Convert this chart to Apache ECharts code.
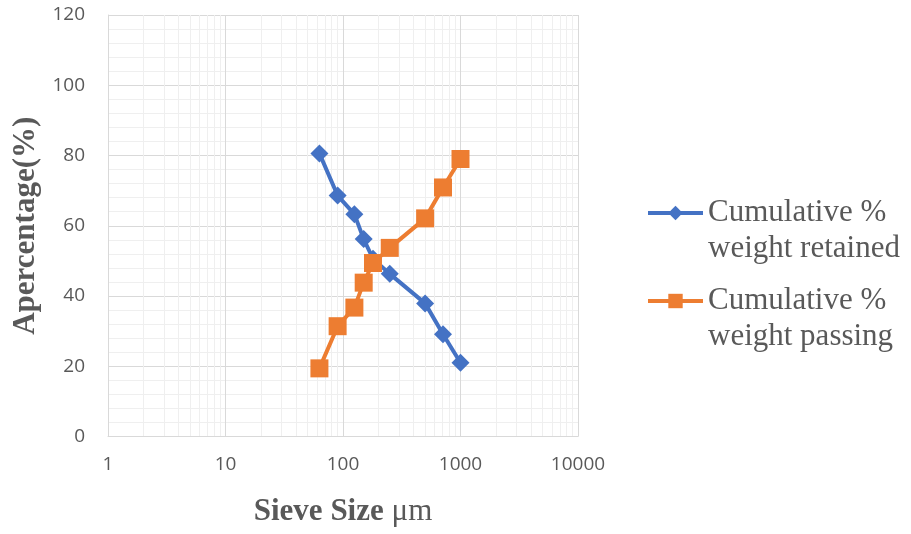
<!DOCTYPE html>
<html>
<head>
<meta charset="utf-8">
<script src="https://cdn.jsdelivr.net/npm/echarts@6/dist/echarts.min.js"></script>
<style>
html,body{margin:0;padding:0;background:#fff;}
#chart{width:911px;height:534px;}
</style>
</head>
<body>
<div id="chart"></div>
<script>
// Sieve sizes (µm)
var sieveSizes = [63, 90, 125, 150, 180, 250, 500, 710, 1000];
// Cumulative % weight retained
var retained = [80.6, 68.6, 63.3, 56.2, 50.6, 46.3, 37.9, 29.1, 21.0];
// Cumulative % weight passing
var passing = [19.4, 31.4, 36.7, 43.8, 49.4, 53.7, 62.1, 70.9, 79.0];
var seriesNames = ['Cumulative %\nweight retained', 'Cumulative %\nweight passing'];
// x minor gridline values
var xMinorTicks = [2,3,4,5,6,7,8,9,20,30,40,50,60,70,80,90,200,300,400,500,600,700,800,900,2000,3000,4000,5000,6000,7000,8000,9000];

function pairs(xs, ys){ return xs.map(function(x,i){ return [x, ys[i]]; }); }

var chart = echarts.init(document.getElementById('chart'), null, {renderer:'canvas'});
var tickFont = {fontFamily:'Open Sans', fontSize:19, color:'#595959'};
var lineH = 36;
chart.setOption({
  animation:false,
  backgroundColor:'#ffffff',
  grid:{left:108, right:333, top:15, bottom:97.5, outerBoundsMode:'none', containLabel:false},
  legend:{
    orient:'vertical', left:646, top:159, padding:0,
    itemWidth:55, itemHeight:18, itemGap:-20,
    data:seriesNames,
    formatter:function(n){ return '\n' + n; },
    lineStyle:{width:4},
    textStyle:{fontFamily:'Liberation Serif', fontSize:31, color:'#595959', lineHeight:lineH}
  },
  xAxis:{
    type:'log', logBase:10, min:1, max:10000,
    name:'{b|Sieve Size }{n|μm}', nameLocation:'middle', nameGap:60,
    nameTextStyle:{rich:{
      b:{fontFamily:'Liberation Serif', fontWeight:'bold', fontSize:31, color:'#595959'},
      n:{fontFamily:'Liberation Serif', fontSize:31, color:'#595959'}
    }},
    axisLine:{show:true, lineStyle:{color:'#d9d9d9', width:1}},
    axisTick:{show:false},
    axisLabel:Object.assign({margin:19, formatter:function(v){return String(Math.round(v));}}, tickFont),
    splitLine:{show:true, lineStyle:{color:'#d9d9d9', width:1}},
    minorTick:{show:false},
    minorSplitLine:{show:false}
  },
  yAxis:{
    type:'value', min:0, max:120, interval:20,
    name:'Apercentage(%)', nameLocation:'middle', nameGap:59,
    nameTextStyle:{fontFamily:'Liberation Serif', fontWeight:'bold', fontSize:31, color:'#595959'},
    axisLine:{show:true, lineStyle:{color:'#d9d9d9', width:1}},
    axisTick:{show:false},
    axisLabel:Object.assign({margin:23}, tickFont),
    splitLine:{show:true, lineStyle:{color:'#d9d9d9', width:1}},
    minorTick:{show:false, splitNumber:5},
    minorSplitLine:{show:true, lineStyle:{color:'#efefef', width:1}}
  },
  series:[
    {
      type:'line', name:'minor', data:[], silent:true, z:0,
      markLine:{
        silent:true, symbol:['none','none'], label:{show:false}, z:0, zlevel:0,
        lineStyle:{color:'#efefef', width:1, type:'solid'},
        emphasis:{disabled:true},
        data:xMinorTicks.map(function(v){return {xAxis:v};}),
        animation:false
      }
    },
    {
      type:'line', name:seriesNames[0], data:pairs(sieveSizes, retained), z:3,
      symbol:'diamond', symbolSize:18,
      itemStyle:{color:'#4472C4', borderWidth:0},
      lineStyle:{color:'#4472C4', width:4}
    },
    {
      type:'line', name:seriesNames[1], data:pairs(sieveSizes, passing), z:4,
      symbol:'rect', symbolSize:18,
      itemStyle:{color:'#ED7D31', borderWidth:0},
      lineStyle:{color:'#ED7D31', width:4}
    }
  ]
});
</script>
</body>
</html>
